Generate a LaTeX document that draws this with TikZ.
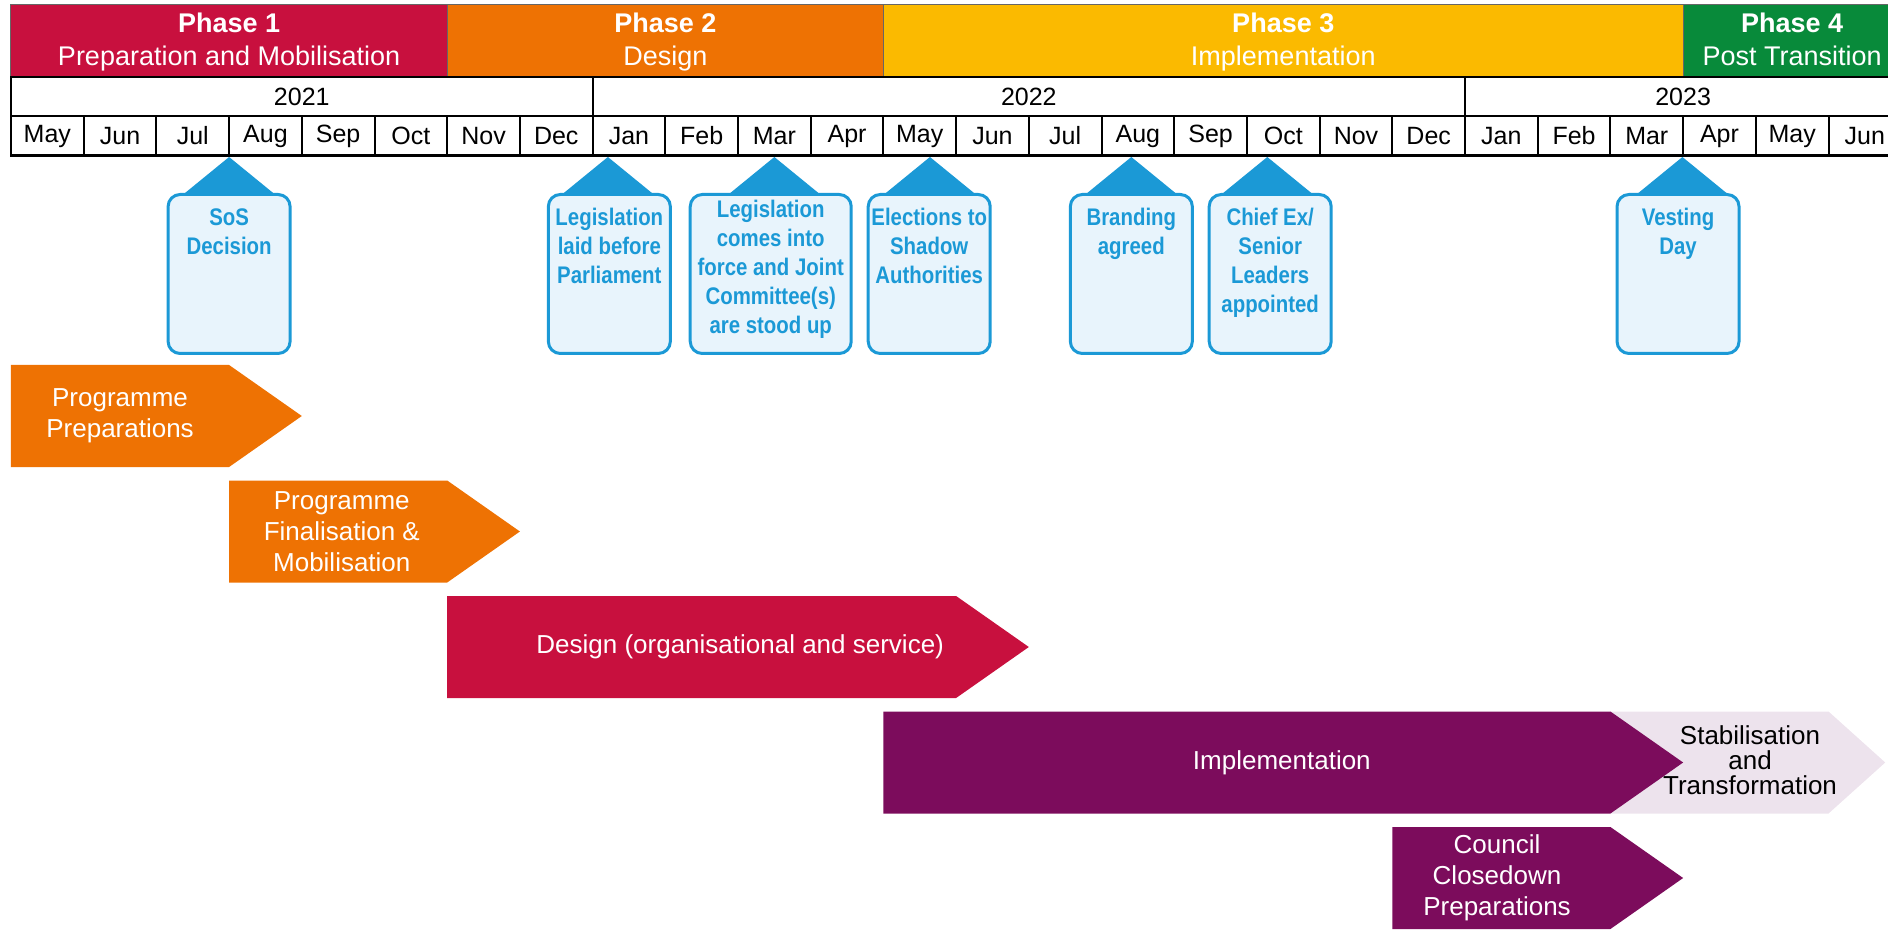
\documentclass[tikz,border=0pt]{standalone}
\usepackage{fontspec}
\setmainfont{Liberation Sans}
\newfontfamily\callfont[FakeStretch=0.85]{Liberation Sans}
\usetikzlibrary{positioning}

\definecolor{phaseone}{RGB}{200,16,62}
\definecolor{phasetwo}{RGB}{238,114,3}
\definecolor{phasethree}{RGB}{251,186,0}
\definecolor{phasefour}{RGB}{8,138,58}
\definecolor{implpurple}{RGB}{124,12,92}
\definecolor{stablilac}{RGB}{237,227,237}
\definecolor{callblue}{RGB}{27,153,214}
\definecolor{callfill}{RGB}{232,244,252}

\tikzset{
  phasebox/.style={draw=black!60, line width=0.5pt},
  phasetext/.style={text=white, align=center, font=\fontsize{13.5}{16.5}\selectfont},
  gridcell/.style={draw=black, line width=1pt},
  celltext/.style={font=\fontsize{12.5}{15}\selectfont},
  callbox/.style={draw=callblue, fill=callfill, line width=1.5pt, rounded corners=6pt,
    minimum height=79.5pt, anchor=north},
  calltext/.style={text=callblue, align=center, inner sep=0pt,
    font=\callfont\bfseries\fontsize{12}{14.5}\selectfont},
  bartext/.style={text=white, align=center, font=\fontsize{13}{15.5}\selectfont},
}

\begin{document}
\begin{tikzpicture}[x=36.35pt, y=-0.5pt]
    \useasboundingbox (-0.1513,0) rectangle (25.818,929);

    % phases
    \filldraw[phasebox, fill=phaseone] (0,5) rectangle (6,77);
    \filldraw[phasebox, fill=phasetwo] (6,5) rectangle (12,77);
    \filldraw[phasebox, fill=phasethree] (12,5) rectangle (23,77);
    \filldraw[phasebox, fill=phasefour] (23,5) rectangle (26,77);
    \node[phasetext] (ph1) at (3,42.5) {\textbf{Phase 1}\strut\\Preparation and Mobilisation\strut};
    \node[phasetext] (ph2) at (9,42.5) {\textbf{Phase 2}\strut\\Design\strut};
    \node[phasetext] (ph3) at (17.5,42.5) {\textbf{Phase 3}\strut\\Implementation\strut};
    \node[phasetext] (ph4) at (24.5,42.5) {\textbf{Phase 4}\strut\\Post Transition\strut};

    % years and months
    \draw[gridcell] (0,77) rectangle (8,116);
    \draw[gridcell] (8,77) rectangle (20,116);
    \draw[gridcell] (20,77) rectangle (26,116);
    \node[celltext] (y2021) at (4,96.5) {2021};
    \node[celltext] (y2022) at (14,96.5) {2022};
    \node[celltext] (y2023) at (23,96.5) {2023};
    \foreach \m [count=\i from 0] in {May,Jun,Jul,Aug,Sep,Oct,Nov,Dec,Jan,Feb,Mar,Apr,May,Jun,Jul,Aug,Sep,Oct,Nov,Dec,Jan,Feb,Mar,Apr,May,Jun}{
        \draw[gridcell] (\i,116) rectangle (\i+1,156);
        \node[celltext] (m\i) at (\i+0.5,136) {\m};
    }
    \draw[black, line width=1.5pt] (0,156) -- (26,156);

    % milestones
    \foreach \c/\a/\w/\d/\txt/\nm in {
        3.0/3.0/61/7.5/{SoS\\Decision}/sos,
        8.23/8.21/61/7.5/{Legislation\\laid before\\Parliament}/laid,
        10.45/10.5/80.5/3.5/{Legislation\\comes into\\force and Joint\\Committee(s)\\are stood up}/force,
        12.63/12.64/61/7.5/{Elections to\\Shadow\\Authorities}/elect,
        15.41/15.41/61/7.5/{Branding\\agreed}/brand,
        17.32/17.28/61/7.5/{Chief Ex/\\Senior\\Leaders\\appointed}/chief,
        22.93/22.99/61/7.5/{Vesting\\Day}/vest}{
        \fill[callblue] (\a-0.64,195) -- (\a,157) -- (\a+0.64,195) -- cycle;
        \node[callbox, minimum width=\w pt] (\nm) at (\c,193) {};
        \node[calltext, below=\d pt of \nm.north] (\nm-t) {\txt};
    }

    % workstreams
    \fill[phasetwo] (0,365) -- (3,365) -- (4,416) -- (3,467) -- (0,467) -- cycle;
    \node[bartext] (prep) at (1.5,416) {Programme\\Preparations};

    \fill[phasetwo] (3,480.5) -- (6,480.5) -- (7,531.5) -- (6,582.5) -- (3,582.5) -- cycle;
    \node[bartext] (final) at (4.55,531.5) {Programme\\Finalisation \&\\Mobilisation};

    \fill[phaseone] (6,596) -- (13,596) -- (14,647) -- (13,698) -- (6,698) -- cycle;
    \node[bartext] (design) at (10.03,647) {Design (organisational and service)};

    \fill[stablilac] (22,711.5) -- (25,711.5) -- (25.78,762.5) -- (25,813.5) -- (22,813.5) -- cycle;
    \node[bartext, text=black, font=\fontsize{13}{12.5}\selectfont] (stab) at (23.92,760) {Stabilisation\\and\\Transformation};

    \fill[implpurple] (12,711.5) -- (22,711.5) -- (23,762.5) -- (22,813.5) -- (12,813.5) -- cycle;
    \node[bartext] (impl) at (17.48,762.5) {Implementation};

    \fill[implpurple] (19,827) -- (22,827) -- (23,878) -- (22,929) -- (19,929) -- cycle;
    \node[bartext] (close) at (20.44,878) {Council\\Closedown\\Preparations};
\end{tikzpicture}
\end{document}
